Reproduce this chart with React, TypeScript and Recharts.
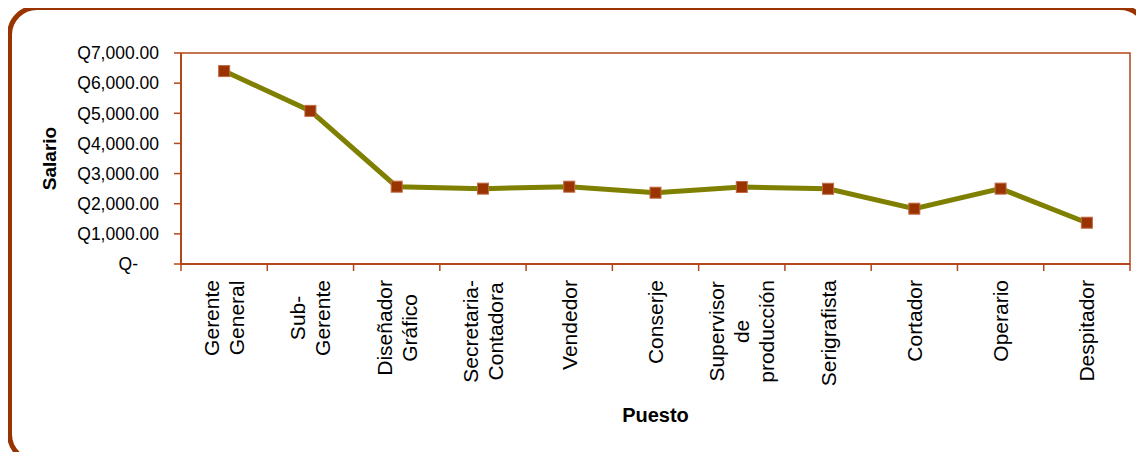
import React from 'react';
import { LineChart, Line, XAxis, YAxis, ReferenceArea, Label } from 'recharts';

const puestos = [
  'Gerente\nGeneral',
  'Sub-\nGerente',
  'Diseñador\nGráfico',
  'Secretaria-\nContadora',
  'Vendedor',
  'Conserje',
  'Supervisor\nde\nproducción',
  'Serigrafista',
  'Cortador',
  'Operario',
  'Despitador',
];
const salarios = [6400, 5080, 2565, 2500, 2565, 2365, 2555, 2495, 1835, 2500, 1370];
const yTicks = [0, 1000, 2000, 3000, 4000, 5000, 6000, 7000];

// posición numérica para que el área del gráfico abarque media banda a cada lado
const data = puestos.map((puesto, i) => ({ pos: i, puesto, salario: salarios[i] }));
const xTicks = puestos.map((_, i) => i);

const W = 1144;
const H = 460;
const TOP = 53;
const RIGHT = 14;
const Y_AXIS_W = 181;
const X_AXIS_H = 196;
const PLOT_W = W - Y_AXIS_W - RIGHT;
const PLOT_BOTTOM = H - X_AXIS_H;
const BAND = PLOT_W / puestos.length;

const AXIS = '#b0481a';
const FONT = '"Liberation Sans", Arial, sans-serif';
const X_FONT_SIZE = 21;

let ctx: CanvasRenderingContext2D | null = null;
function measure(text: string) {
  if (!ctx) {
    ctx = document.createElement('canvas').getContext('2d');
  }
  if (!ctx) return text.length * X_FONT_SIZE * 0.55;
  ctx.font = `${X_FONT_SIZE}px ${FONT}`;
  return ctx.measureText(text).width;
}

const fmtQ = (v: number) =>
  v === 0
    ? 'Q-'
    : 'Q' + v.toLocaleString('en-US', { minimumFractionDigits: 2, maximumFractionDigits: 2 });

const PuestoTick = (props: any) => {
  const { x, payload, index } = props;
  const lines: string[] = String(puestos[payload.value] ?? '').split('\n');
  const maxW = Math.max(...lines.map(measure));
  const cy = 280 + maxW / 2;
  const n = lines.length;
  return (
    <g>
      <line x1={x - BAND / 2} x2={x - BAND / 2} y1={PLOT_BOTTOM} y2={PLOT_BOTTOM + 7} stroke={AXIS} strokeWidth={1.5} />
      {index === puestos.length - 1 && (
        <line x1={x + BAND / 2} x2={x + BAND / 2} y1={PLOT_BOTTOM} y2={PLOT_BOTTOM + 7} stroke={AXIS} strokeWidth={1.5} />
      )}
      {lines.map((l, i) => {
        const bx = x + (i - (n - 1) / 2) * 25 + 7.5;
        return (
          <text
            key={i}
            x={bx}
            y={cy}
            transform={`rotate(-90, ${bx}, ${cy})`}
            textAnchor="middle"
            fontFamily={FONT}
            fontSize={X_FONT_SIZE}
            fill="#000"
          >
            {l}
          </text>
        );
      })}
    </g>
  );
};

const SalarioTick = (props: any) => {
  const { x, y, payload } = props;
  return (
    <text
      x={x - (payload.value === 0 ? 21 : 0)}
      y={y}
      dy="0.36em"
      textAnchor="end"
      fontFamily={FONT}
      fontSize={17.5}
      fill="#000"
    >
      {fmtQ(payload.value)}
    </text>
  );
};

const SquareDot = (props: any) => {
  const { cx, cy, index } = props;
  if (cx == null || cy == null) return null;
  return <rect key={index} x={cx - 5.5} y={cy - 5.5} width={11} height={11} fill="#993300" stroke="#c06a44" strokeWidth={1} />;
};

export default function App() {
  return (
    <div style={{ position: 'relative', width: W, height: H, margin: -8, overflow: 'hidden', background: '#fff' }}>
      <div
        style={{
          position: 'absolute',
          left: 7,
          top: 5,
          width: 1143,
          height: 459,
          boxSizing: 'border-box',
          border: '5px solid #993300',
          borderRadius: 30,
        }}
      />
      <div style={{ position: 'absolute', left: 0, top: 0 }}>
        <LineChart width={W} height={H} data={data} margin={{ top: TOP, right: RIGHT, left: 0, bottom: 0 }}>
          <XAxis
            type="number"
            dataKey="pos"
            domain={[-0.5, puestos.length - 0.5]}
            ticks={xTicks}
            interval={0}
            height={X_AXIS_H}
            tickLine={false}
            axisLine={{ stroke: AXIS, strokeWidth: 2 }}
            tick={<PuestoTick />}
          >
            <Label
              content={(p: any) => {
                const vb = p.viewBox || {};
                return (
                  <text x={vb.x + vb.width / 2} y={422} textAnchor="middle" fontFamily={FONT} fontSize={20} fontWeight="bold" fill="#000">
                    Puesto
                  </text>
                );
              }}
            />
          </XAxis>
          <YAxis
            width={Y_AXIS_W}
            domain={[0, 7000]}
            ticks={yTicks}
            interval={0}
            tickSize={7}
            tickMargin={15}
            tickLine={{ stroke: AXIS, strokeWidth: 1.5 }}
            axisLine={{ stroke: AXIS, strokeWidth: 2 }}
            tick={<SalarioTick />}
          >
            <Label
              content={(p: any) => {
                const vb = p.viewBox || {};
                const cy = vb.y + vb.height / 2;
                return (
                  <text x={56} y={cy} transform={`rotate(-90, 56, ${cy})`} textAnchor="middle" fontFamily={FONT} fontSize={19} fontWeight="bold" fill="#000">
                    Salario
                  </text>
                );
              }}
            />
          </YAxis>
          <ReferenceArea y1={0} y2={7000} fill="none" stroke={AXIS} strokeWidth={1.5} ifOverflow="visible" />
          <Line
            type="linear"
            dataKey="salario"
            stroke="#808000"
            strokeWidth={5}
            dot={<SquareDot />}
            activeDot={false}
            isAnimationActive={false}
          />
        </LineChart>
      </div>
    </div>
  );
}
